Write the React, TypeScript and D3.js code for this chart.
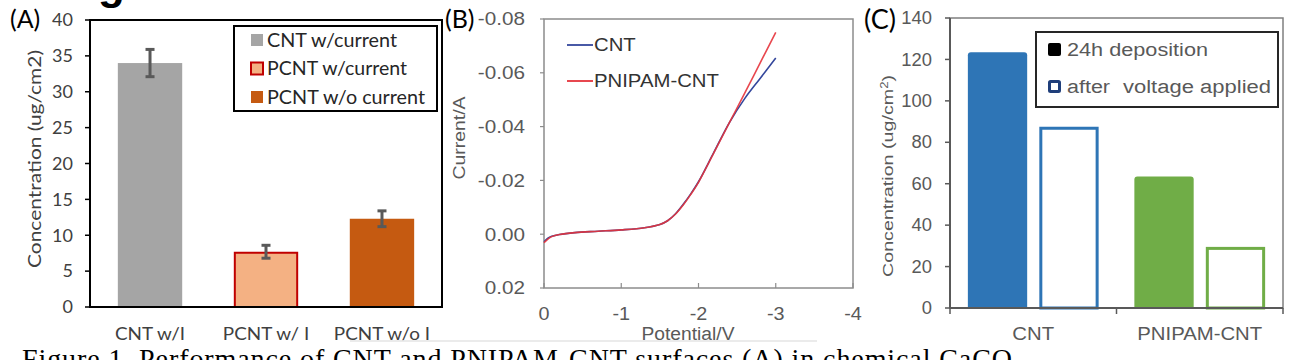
import React from "react";
import * as d3 from "d3";

// ---------- Panel A data ----------
const aCategories = ["CNT w/I", "PCNT w/ I", "PCNT w/o I"];
const aValues = [34.0, 7.7, 12.3];
const aErrors = [1.9, 0.9, 1.1];
const aLegend = ["CNT w/current", "PCNT w/current", "PCNT w/o current"];
const aTicks = [0, 5, 10, 15, 20, 25, 30, 35, 40];

// ---------- Panel B data ----------
const bPotential = [0, -0.05, -0.1, -0.2, -0.4, -0.7, -1.0, -1.3, -1.5, -1.6, -1.7, -1.8, -1.9, -2.0, -2.2, -2.4, -2.6, -2.8, -3.0];
const bCNT = [0.0028, 0.0015, 0.0008, 0.0001, -0.0006, -0.0011, -0.0016, -0.0024, -0.0036, -0.005, -0.0075, -0.011, -0.015, -0.0195, -0.0305, -0.0415, -0.0505, -0.058, -0.0655];
const bPNIPAM = [0.0032, 0.0018, 0.0009, 0.0001, -0.0006, -0.0011, -0.0016, -0.0024, -0.0036, -0.005, -0.0074, -0.0108, -0.0148, -0.0193, -0.0303, -0.0415, -0.0525, -0.0638, -0.075];
const bYTicks = [-0.08, -0.06, -0.04, -0.02, 0, 0.02];
const bXTicks = [0, -1, -2, -3, -4];
const bLegend = ["CNT", "PNIPAM-CNT"];

// ---------- Panel C data ----------
const cCategories = ["CNT", "PNIPAM-CNT"];
const cDeposition = [123.5, 63.5];
const cAfterVoltage = [87.5, 29.5];
const cTicks = [0, 20, 40, 60, 80, 100, 120, 140];

const caption = "Figure 1. Performance of CNT and PNIPAM-CNT surfaces (A) in chemical CaCO";

const calibri = "Lato, 'Open Sans', sans-serif";
const arial = "'Liberation Sans', Arial, sans-serif";

type STextProps = {
  x: number;
  y: number;
  sx?: number;
  anchor?: "start" | "middle" | "end";
  size: number;
  fill?: string;
  family?: string;
  dy?: string;
  children: React.ReactNode;
};

function SText({ x, y, sx = 1.13, anchor = "start", size, fill = "#595959", family = arial, dy, children }: STextProps) {
  return (
    <text transform={`translate(${x},${y}) scale(${sx},1)`} textAnchor={anchor} fontFamily={family} fontSize={size} fill={fill} dy={dy}>
      {children}
    </text>
  );
}

function PanelA() {
  const y = d3.scaleLinear().domain([0, 40]).range([307, 20]);
  const x = d3.scaleBand().domain(aCategories).range([90, 442]).paddingInner(0.445).paddingOuter(0.24);
  const fills = ["#A5A5A5", "#F4B183", "#C55A11"];
  const strokes = ["none", "#C00000", "none"];
  const legendLen = [130, 140, 158];
  const bw = x.bandwidth();
  return (
    <g>
      <text x={10} y={28} fontFamily={calibri} fontSize={25} fill="#000">(A)</text>
      <rect x={90} y={20} width={352} height={287} fill="none" stroke="#000" strokeWidth={2} />
      {aTicks.map((t) => (
        <g key={t}>
          <line x1={85} x2={90} y1={y(t)} y2={y(t)} stroke="#000" strokeWidth={1.5} />
          <text x={73} y={y(t)} dy="0.35em" textAnchor="end" fontFamily={calibri} fontSize={18} fill="#404040">{t}</text>
        </g>
      ))}
      <text transform={`translate(35,159) rotate(-90)`} textAnchor="middle" dy="0.35em" fontFamily={calibri} fontSize={18} fill="#404040" textLength={218} lengthAdjust="spacingAndGlyphs">
        Concentration (ug/cm2)
      </text>
      {aCategories.map((c, i) => {
        const x0 = x(c)!;
        const cx = x0 + bw / 2;
        const hasStroke = strokes[i] !== "none";
        return (
          <g key={c}>
            <rect
              x={hasStroke ? x0 + 1 : x0}
              y={hasStroke ? y(aValues[i]) + 1 : y(aValues[i])}
              width={hasStroke ? bw - 2 : bw}
              height={hasStroke ? y(0) - y(aValues[i]) - 1 : y(0) - y(aValues[i])}
              fill={fills[i]}
              stroke={strokes[i]}
              strokeWidth={2}
            />
            <line x1={cx} x2={cx} y1={y(aValues[i] + aErrors[i])} y2={y(aValues[i] - aErrors[i])} stroke="#595959" strokeWidth={3} />
            <line x1={cx - 4.5} x2={cx + 4.5} y1={y(aValues[i] + aErrors[i])} y2={y(aValues[i] + aErrors[i])} stroke="#595959" strokeWidth={3} />
            <line x1={cx - 4.5} x2={cx + 4.5} y1={y(aValues[i] - aErrors[i])} y2={y(aValues[i] - aErrors[i])} stroke="#595959" strokeWidth={3} />
            <SText x={cx} y={340} anchor="middle" size={18} sx={1.05} family={calibri} fill="#404040">{c}</SText>
          </g>
        );
      })}
      <line x1={90} x2={442} y1={307} y2={307} stroke="#000" strokeWidth={2} />
      <rect x={234} y={26} width={203} height={85} fill="#fff" stroke="#000" strokeWidth={2} />
      {aLegend.map((l, i) => {
        const cy = 40 + i * 28.5;
        return (
          <g key={l}>
            <rect x={251} y={cy - 6} width={12} height={12} fill={fills[i]} stroke={strokes[i]} strokeWidth={strokes[i] === "none" ? 0 : 2} />
            <text x={267} y={cy} dy="0.35em" fontFamily={calibri} fontSize={19} fill="#262626" textLength={legendLen[i]} lengthAdjust="spacingAndGlyphs">{l}</text>
          </g>
        );
      })}
    </g>
  );
}

function PanelB() {
  const x = d3.scaleLinear().domain([0, -4]).range([544, 853]);
  const y = d3.scaleLinear().domain([0.02, -0.08]).range([288, 19]);
  const line = d3
    .line<number>()
    .x((_, i) => x(bPotential[i]))
    .curve(d3.curveCatmullRom);
  const blue = "#34479C";
  const red = "#E5333B";
  const cnt = line.y((v) => y(v))(bCNT) || "";
  const pn = line.y((v) => y(v))(bPNIPAM) || "";
  const fmt = (t: number) => d3.format(".2f")(t).replace("\u2212", "-");
  return (
    <g>
      <line x1={350} x2={817} y1={341} y2={341} stroke="#e4e4e4" strokeWidth={1.5} />
      <text x={445} y={28} fontFamily={calibri} fontSize={25} fill="#000">(B)</text>
      <rect x={544} y={19} width={309} height={269} fill="none" stroke="#8c8c8c" strokeWidth={1.5} />
      {bYTicks.map((t) => (
        <g key={t}>
          <line x1={540} x2={544} y1={y(t)} y2={y(t)} stroke="#8c8c8c" strokeWidth={1.2} />
          <SText x={525} y={y(t)} dy="0.35em" anchor="end" size={18} sx={1.15}>{fmt(t)}</SText>
        </g>
      ))}
      {bXTicks.map((t) => (
        <g key={t}>
          <line x1={x(t)} x2={x(t)} y1={288} y2={283} stroke="#8c8c8c" strokeWidth={1.2} />
          <SText x={x(t)} y={320} anchor="middle" size={18} sx={1.1}>{String(t)}</SText>
        </g>
      ))}
      <text x={688} y={340} textAnchor="middle" fontFamily={arial} fontSize={18} fill="#595959" textLength={93} lengthAdjust="spacingAndGlyphs">Potential/V</text>
      <text transform={`translate(459,138) rotate(-90)`} textAnchor="middle" dy="0.35em" fontFamily={arial} fontSize={16} fill="#595959" textLength={83} lengthAdjust="spacingAndGlyphs">
        Current/A
      </text>
      <path d={cnt} fill="none" stroke={blue} strokeWidth={1.6} />
      <path d={pn} fill="none" stroke={red} strokeWidth={1.6} strokeOpacity={0.9} />
      {bLegend.map((l, i) => {
        const cy = 45 + i * 36;
        return (
          <g key={l}>
            <line x1={567} x2={593} y1={cy} y2={cy} stroke={i === 0 ? blue : red} strokeWidth={1.8} />
            <SText x={594} y={cy} dy="0.35em" size={18} sx={1.13} fill="#333">{l}</SText>
          </g>
        );
      })}
    </g>
  );
}

function PanelC() {
  const y = d3.scaleLinear().domain([0, 140]).range([308, 18]);
  const x0 = d3.scaleBand().domain(cCategories).range([950, 1283]).padding(0);
  const x1 = d3.scaleBand().domain(["dep", "after"]).range([0, x0.bandwidth()]).paddingInner(0.17).paddingOuter(0.25);
  const colors = ["#2E75B6", "#70AD47"];
  const bw = x1.bandwidth();
  return (
    <g>
      <text x={864} y={29} fontFamily={calibri} fontSize={27} fill="#000">(C)</text>
      <rect x={950} y={18} width={333} height={290} fill="none" stroke="#7f7f7f" strokeWidth={1.5} />
      <line x1={950} x2={950} y1={18} y2={308} stroke="#595959" strokeWidth={2} />
      {cTicks.map((t) => (
        <g key={t}>
          <line x1={945} x2={950} y1={y(t)} y2={y(t)} stroke="#595959" strokeWidth={1.5} />
          <SText x={932} y={y(t)} dy="0.35em" anchor="end" size={17.5} sx={1.05}>{t}</SText>
        </g>
      ))}
      <text transform={`translate(888,176) rotate(-90)`} textAnchor="middle" dy="0.35em" fontFamily={arial} fontSize={15} fill="#595959" textLength={202} lengthAdjust="spacingAndGlyphs">
        Concentration (ug/cm<tspan dy="-5" fontSize={10}>2</tspan><tspan dy="5">)</tspan>
      </text>
      {cCategories.map((c, i) => {
        const gx = x0(c)!;
        const xd = gx + x1("dep")!;
        const xa = gx + x1("after")!;
        const yt = y(cDeposition[i]);
        return (
          <g key={c}>
            <path d={`M${xd},${y(0)} V${yt + 3} Q${xd},${yt} ${xd + 3},${yt} H${xd + bw - 3} Q${xd + bw},${yt} ${xd + bw},${yt + 3} V${y(0)} Z`} fill={colors[i]} />
            <rect x={xa + 1.5} y={y(cAfterVoltage[i]) + 1.5} width={bw - 3} height={y(0) - y(cAfterVoltage[i]) - 1.5} fill="#fff" stroke={colors[i]} strokeWidth={3} />
            <SText x={gx + x0.bandwidth() / 2} y={340} anchor="middle" size={18} sx={1.13}>{c}</SText>
          </g>
        );
      })}
      <line x1={950} x2={1283} y1={308} y2={308} stroke="#595959" strokeWidth={2} />
      {[950, 950 + x0.bandwidth(), 1283].map((tx) => (
        <line key={tx} x1={tx} x2={tx} y1={308} y2={314} stroke="#595959" strokeWidth={1.5} />
      ))}
      <rect x={1036} y={32} width={242} height={75} fill="#fff" stroke="#262626" strokeWidth={2} />
      <rect x={1048} y={43} width={13} height={13} rx={2} fill="#000" />
      <rect x={1049.5} y={81.5} width={10} height={10} rx={1} fill="#fff" stroke="#1F3E7A" strokeWidth={3} />
      <text x={1067} y={50} dy="0.35em" fontFamily={arial} fontSize={18} fill="#595959" textLength={141} lengthAdjust="spacingAndGlyphs">24h deposition</text>
      <text x={1067} y={87} dy="0.35em" fontFamily={arial} fontSize={18} fill="#595959" textLength={43} lengthAdjust="spacingAndGlyphs">after</text>
      <text x={1123} y={87} dy="0.35em" fontFamily={arial} fontSize={18} fill="#595959" textLength={148} lengthAdjust="spacingAndGlyphs">voltage applied</text>
    </g>
  );
}

export default function App() {
  return (
    <svg width={1302} height={360} style={{ position: "absolute", left: 0, top: 0, background: "#fff" }}>
      <rect x={0} y={0} width={1302} height={360} fill="#fff" />
      <text x={98} y={-1} fontFamily={arial} fontWeight="bold" fontSize={44} fill="#000">g</text>
      <PanelA />
      <PanelB />
      <PanelC />
      <text x={22} y={368} fontFamily="'Liberation Serif', 'Times New Roman', serif" fontSize={28} fill="#000" textLength={990} lengthAdjust="spacing">
        {caption}
      </text>
    </svg>
  );
}
